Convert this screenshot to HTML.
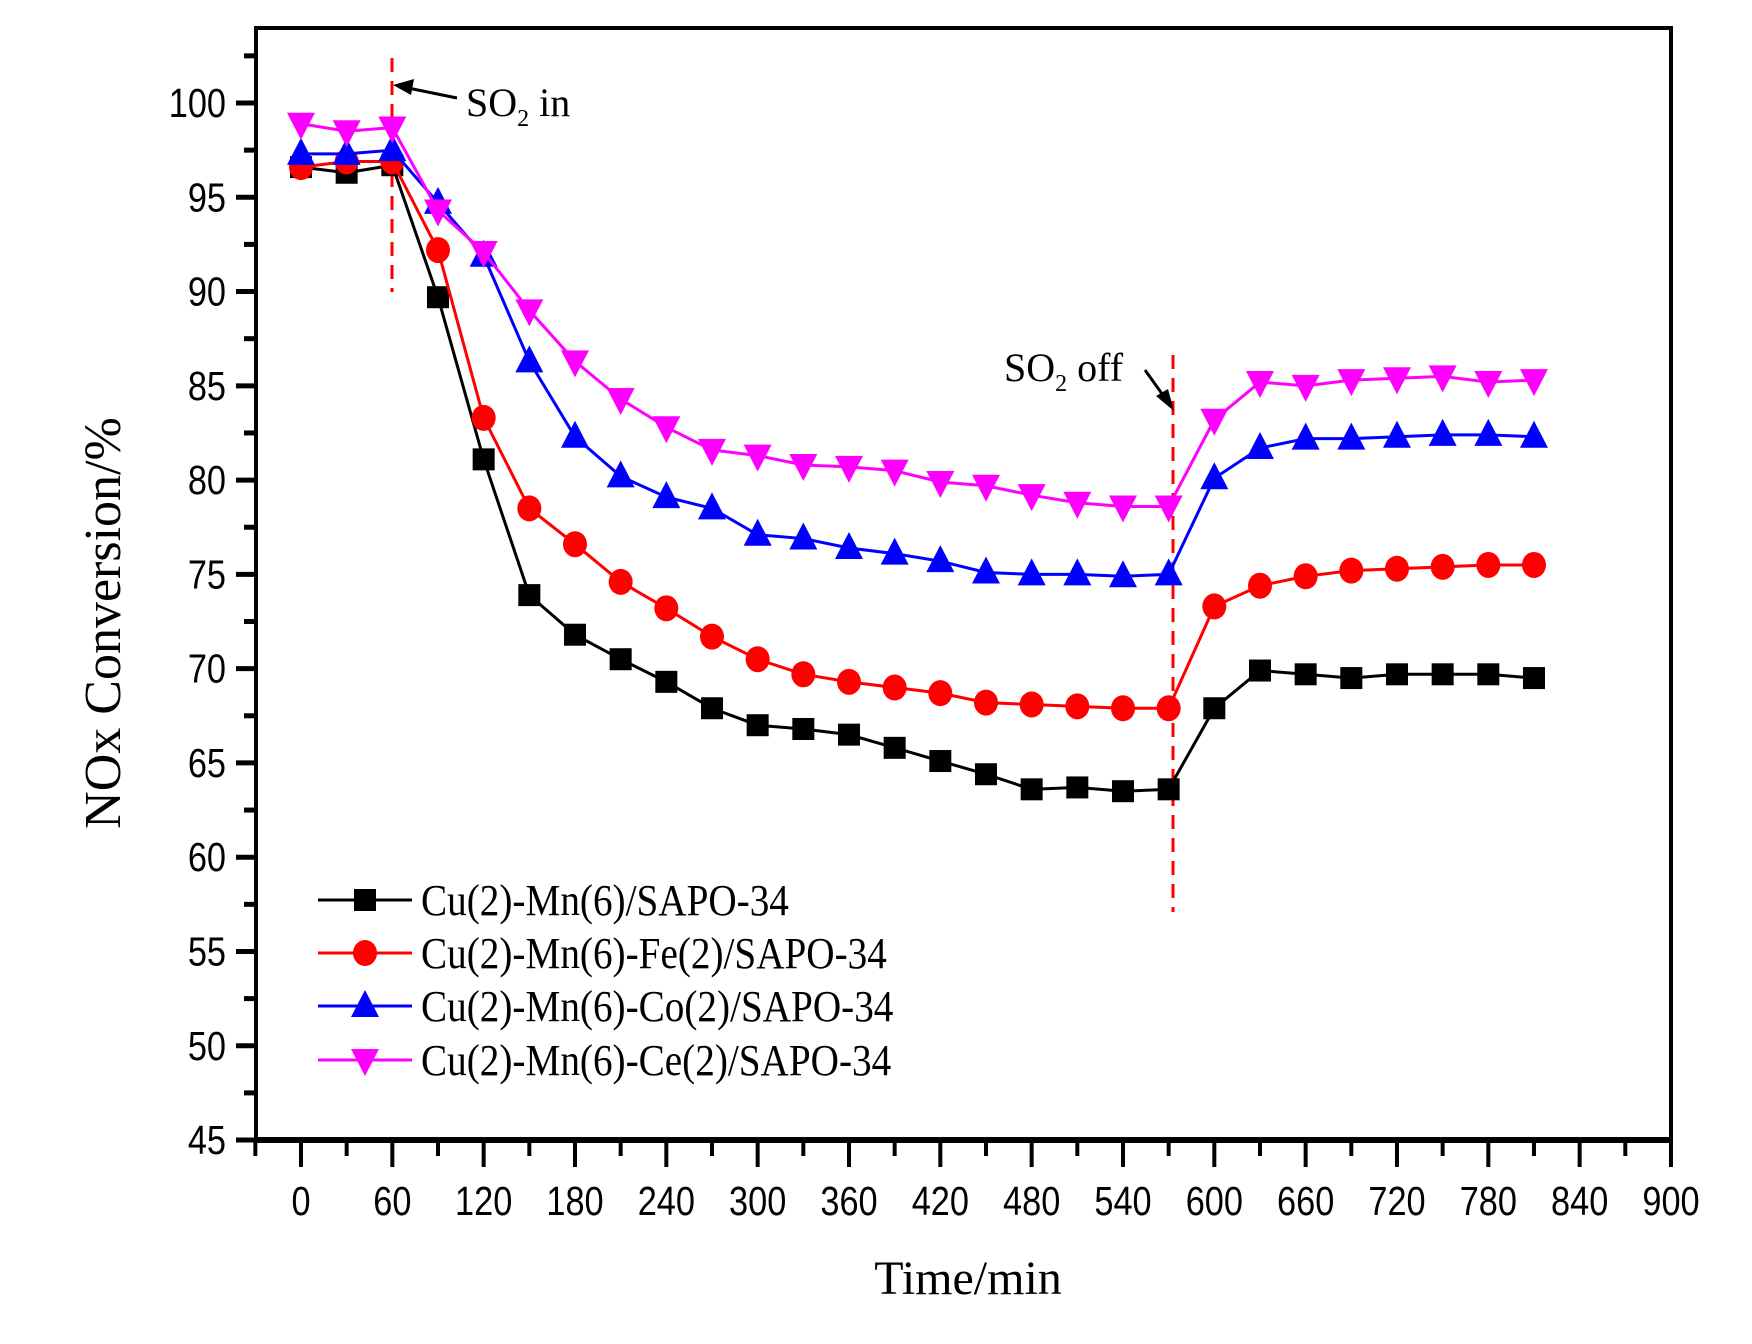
<!DOCTYPE html>
<html><head><meta charset="utf-8"><style>
html,body{margin:0;padding:0;background:#fff;}
svg{display:block;}
</style></head><body>
<svg id="c" width="1752" height="1344" xmlns="http://www.w3.org/2000/svg"></svg>
<script>
const svg=document.getElementById('c');
let h='';
const X=t=>301+t*1.5222;
const Y=v=>103+(100-v)*18.855;
h+=`<rect x="256" y="28" width="1415" height="1112" fill="none" stroke="#000" stroke-width="4"/>`;
h+=`<line x1="254" y1="1140" x2="1673" y2="1140" stroke="#000" stroke-width="6"/>`;
for(let v=45;v<=102.5;v+=2.5){
  const y=Y(v);const maj=(v%5===0);
  h+=`<line x1="${maj?236:244}" y1="${y}" x2="256" y2="${y}" stroke="#000" stroke-width="5"/>`;
  if(maj) h+=`<text transform="translate(226,${y+14}) scale(0.88,1.05)" font-family="Liberation Sans,sans-serif" font-size="39" text-anchor="end">${v}</text>`;
}
for(let t=-30;t<=900;t+=30){
  const x=X(t);const maj=(t%60===0);
  h+=`<line x1="${x}" y1="1140" x2="${x}" y2="${maj?1167:1156}" stroke="#000" stroke-width="4"/>`;
  if(maj) h+=`<text transform="translate(${x},1215) scale(0.88,1.05)" font-family="Liberation Sans,sans-serif" font-size="39" text-anchor="middle">${t}</text>`;
}
h+=`<text x="968" y="1294" font-family="Liberation Serif,serif" font-size="48" text-anchor="middle">Time/min</text>`;
h+=`<text transform="translate(120,623) rotate(-90)" font-family="Liberation Serif,serif" font-size="52" text-anchor="middle">NOx Conversion/%</text>`;
h+=`<line x1="392" y1="58" x2="392" y2="292" stroke="#f00" stroke-width="3" stroke-dasharray="14,9"/>`;
h+=`<line x1="1173" y1="355" x2="1173" y2="912" stroke="#f00" stroke-width="3" stroke-dasharray="14,9"/>`;
h+=`<line x1="457" y1="98" x2="408" y2="88" stroke="#000" stroke-width="3"/><polygon points="393,85 414,79 411,95" fill="#000"/>`;
h+=`<text x="466" y="116" font-family="Liberation Serif,serif" font-size="40">SO<tspan font-size="24" dy="10">2</tspan><tspan dy="-10"> in</tspan></text>`;
h+=`<text x="1004" y="381" font-family="Liberation Serif,serif" font-size="40">SO<tspan font-size="24" dy="10">2</tspan><tspan dy="-10"> off</tspan></text>`;
h+=`<line x1="1145" y1="370" x2="1165" y2="398" stroke="#000" stroke-width="3"/><polygon points="1174,411 1156,396 1168,389" fill="#000"/>`;
const T=[];for(let i=0;i<28;i++)T.push(i*30);
const S=[
 ['#000','sq',[96.6,96.3,96.7,89.7,81.1,73.9,71.8,70.5,69.3,67.9,67.0,66.8,66.5,65.8,65.1,64.4,63.6,63.7,63.5,63.6,67.9,69.9,69.7,69.5,69.7,69.7,69.7,69.5],'Cu(2)-Mn(6)/SAPO-34'],
 ['#f00','ci',[96.6,96.9,96.9,92.2,83.3,78.5,76.6,74.6,73.2,71.7,70.5,69.7,69.3,69.0,68.7,68.2,68.1,68.0,67.9,67.9,73.3,74.4,74.9,75.2,75.3,75.4,75.5,75.5],'Cu(2)-Mn(6)-Fe(2)/SAPO-34'],
 ['#00f','up',[97.3,97.3,97.5,94.7,91.9,86.3,82.3,80.2,79.1,78.5,77.1,76.9,76.4,76.1,75.7,75.1,75.0,75.0,74.9,75.0,80.1,81.7,82.2,82.2,82.3,82.4,82.4,82.3],'Cu(2)-Mn(6)-Co(2)/SAPO-34'],
 ['#f0f','dn',[98.9,98.5,98.7,94.3,92.1,89.0,86.3,84.3,82.8,81.6,81.3,80.8,80.7,80.5,79.9,79.7,79.2,78.8,78.6,78.6,83.2,85.2,85.0,85.3,85.4,85.5,85.2,85.3],'Cu(2)-Mn(6)-Ce(2)/SAPO-34']
];
function mk(type,x,y,c){
  if(type==='sq')return `<rect x="${x-11}" y="${y-11}" width="22" height="22" fill="${c}"/>`;
  if(type==='ci')return `<ellipse cx="${x}" cy="${y}" rx="12" ry="13" fill="${c}"/>`;
  if(type==='up')return `<polygon points="${x},${y-16} ${x-14},${y+11} ${x+14},${y+11}" fill="${c}"/>`;
  return `<polygon points="${x},${y+16} ${x-14},${y-11} ${x+14},${y-11}" fill="${c}"/>`;
}
S.forEach(s=>{
  const pts=s[2].map((v,i)=>X(T[i])+','+Y(v)).join(' ');
  h+=`<polyline points="${pts}" fill="none" stroke="${s[0]}" stroke-width="3"/>`;
  s[2].forEach((v,i)=>h+=mk(s[1],X(T[i]),Y(v),s[0]));
});
const LY=[900,953,1006,1060];
S.forEach((s,i)=>{
  const y=LY[i];
  h+=`<line x1="318" y1="${y}" x2="412" y2="${y}" stroke="${s[0]}" stroke-width="3"/>`;
  h+=mk(s[1],365,y,s[0]);
  h+=`<text transform="translate(421,${y+15}) scale(0.98,1.12)" font-family="Liberation Serif,serif" font-size="40">${s[3]}</text>`;
});
svg.innerHTML=h;
</script>
</body></html>
